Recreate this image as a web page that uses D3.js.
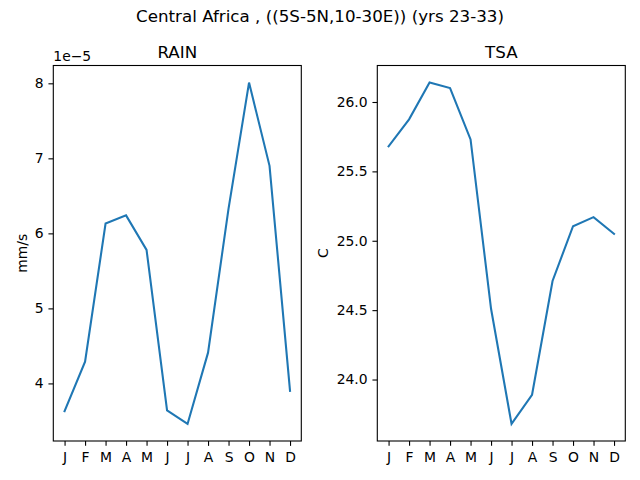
<!DOCTYPE html>
<html>
<head>
<meta charset="utf-8">
<script src="https://cdn.jsdelivr.net/npm/d3@7"></script>
<style>
  body { margin: 0; background: #fff; }
  text { font-family: "DejaVu Sans", sans-serif; fill: #000; }
</style>
</head>
<body>
<svg id="chart" width="640" height="480"></svg>
<script>
// monthly climatology, Central Africa (5S-5N, 10-30E), yrs 23-33
const months = ["J", "F", "M", "A", "M", "J", "J", "A", "S", "O", "N", "D"];
const rainValues = [3.63, 4.29, 6.13, 6.24, 5.78, 3.64, 3.46, 4.41, 6.33, 8.01, 6.90, 3.90]; // x 1e-5 mm/s
const tsaValues = [25.68, 25.875, 26.14, 26.10, 25.73, 24.51, 23.68, 23.89, 24.71, 25.105, 25.17, 25.05]; // C
const rainTicks = [4, 5, 6, 7, 8];
const tsaTicks = [24.0, 24.5, 25.0, 25.5, 26.0];

const svg = d3.select("#chart");
const tick = 4.86, pad = 4.86, fs = 13.9;

svg.append("text")
  .attr("x", 320).attr("y", 22)
  .attr("text-anchor", "middle")
  .style("font-size", "16.7px")
  .text("Central Africa , ((5S-5N,10-30E)) (yrs 23-33)");

function panel(opts) {
  const { left, right, top, bottom, values, ticks, fmt, title, ylabel, ylabelX, offset } = opts;
  const g = svg.append("g");

  // matplotlib-style autoscale: 5% margins on data limits
  const ext = d3.extent(values);
  const m = (ext[1] - ext[0]) * 0.05;
  const y = d3.scaleLinear().domain([ext[0] - m, ext[1] + m]).range([bottom, top]);
  const xm = (months.length - 1) * 0.05;
  const x = d3.scaleLinear().domain([-xm, months.length - 1 + xm]).range([left, right]);

  const xAxis = d3.axisBottom(x)
    .tickValues(d3.range(months.length))
    .tickFormat(i => months[i])
    .tickSize(tick).tickPadding(pad);
  const yAxis = d3.axisLeft(y)
    .tickValues(ticks).tickFormat(fmt)
    .tickSize(tick).tickPadding(pad);

  const gx = g.append("g").attr("transform", `translate(0,${bottom})`).call(xAxis);
  const gy = g.append("g").attr("transform", `translate(${left},0)`).call(yAxis);
  [gx, gy].forEach(a => {
    a.select(".domain").remove();
    a.selectAll(".tick line").attr("stroke", "#000").attr("stroke-width", 1.1);
    a.selectAll(".tick text").style("font-size", fs + "px").attr("fill", "#000")
      .style("font-family", "DejaVu Sans");
  });
  gx.selectAll(".tick text").attr("dy", "0.8em");

  const line = d3.line().x((d, i) => x(i)).y(d => y(d));
  g.append("path")
    .datum(values)
    .attr("d", line)
    .attr("fill", "none")
    .attr("stroke", "#1f77b4")
    .attr("stroke-width", 2.08)
    .attr("stroke-linejoin", "miter")
    .attr("stroke-linecap", "square");

  g.append("rect")
    .attr("x", left).attr("y", top)
    .attr("width", right - left).attr("height", bottom - top)
    .attr("fill", "none").attr("stroke", "#000").attr("stroke-width", 1.1);

  g.append("text")
    .attr("x", (left + right) / 2).attr("y", top - 8)
    .attr("text-anchor", "middle")
    .style("font-size", "16.7px")
    .text(title);

  g.append("text")
    .attr("transform", `translate(${ylabelX},${(top + bottom) / 2}) rotate(-90)`)
    .attr("text-anchor", "middle")
    .style("font-size", fs + "px")
    .text(ylabel);

  if (offset) {
    g.append("text")
      .attr("x", left).attr("y", top - 4.5)
      .style("font-size", fs + "px")
      .text(offset);
  }
}

panel({
  left: 53.3, right: 301.3, top: 65.5, bottom: 441,
  values: rainValues, ticks: rainTicks, fmt: d3.format("d"),
  title: "RAIN", ylabel: "mm/s", ylabelX: 27, offset: "1e\u22125"
});

panel({
  left: 377.3, right: 625.3, top: 65.5, bottom: 441,
  values: tsaValues, ticks: tsaTicks, fmt: d3.format(".1f"),
  title: "TSA", ylabel: "C", ylabelX: 328
});
</script>
</body>
</html>
